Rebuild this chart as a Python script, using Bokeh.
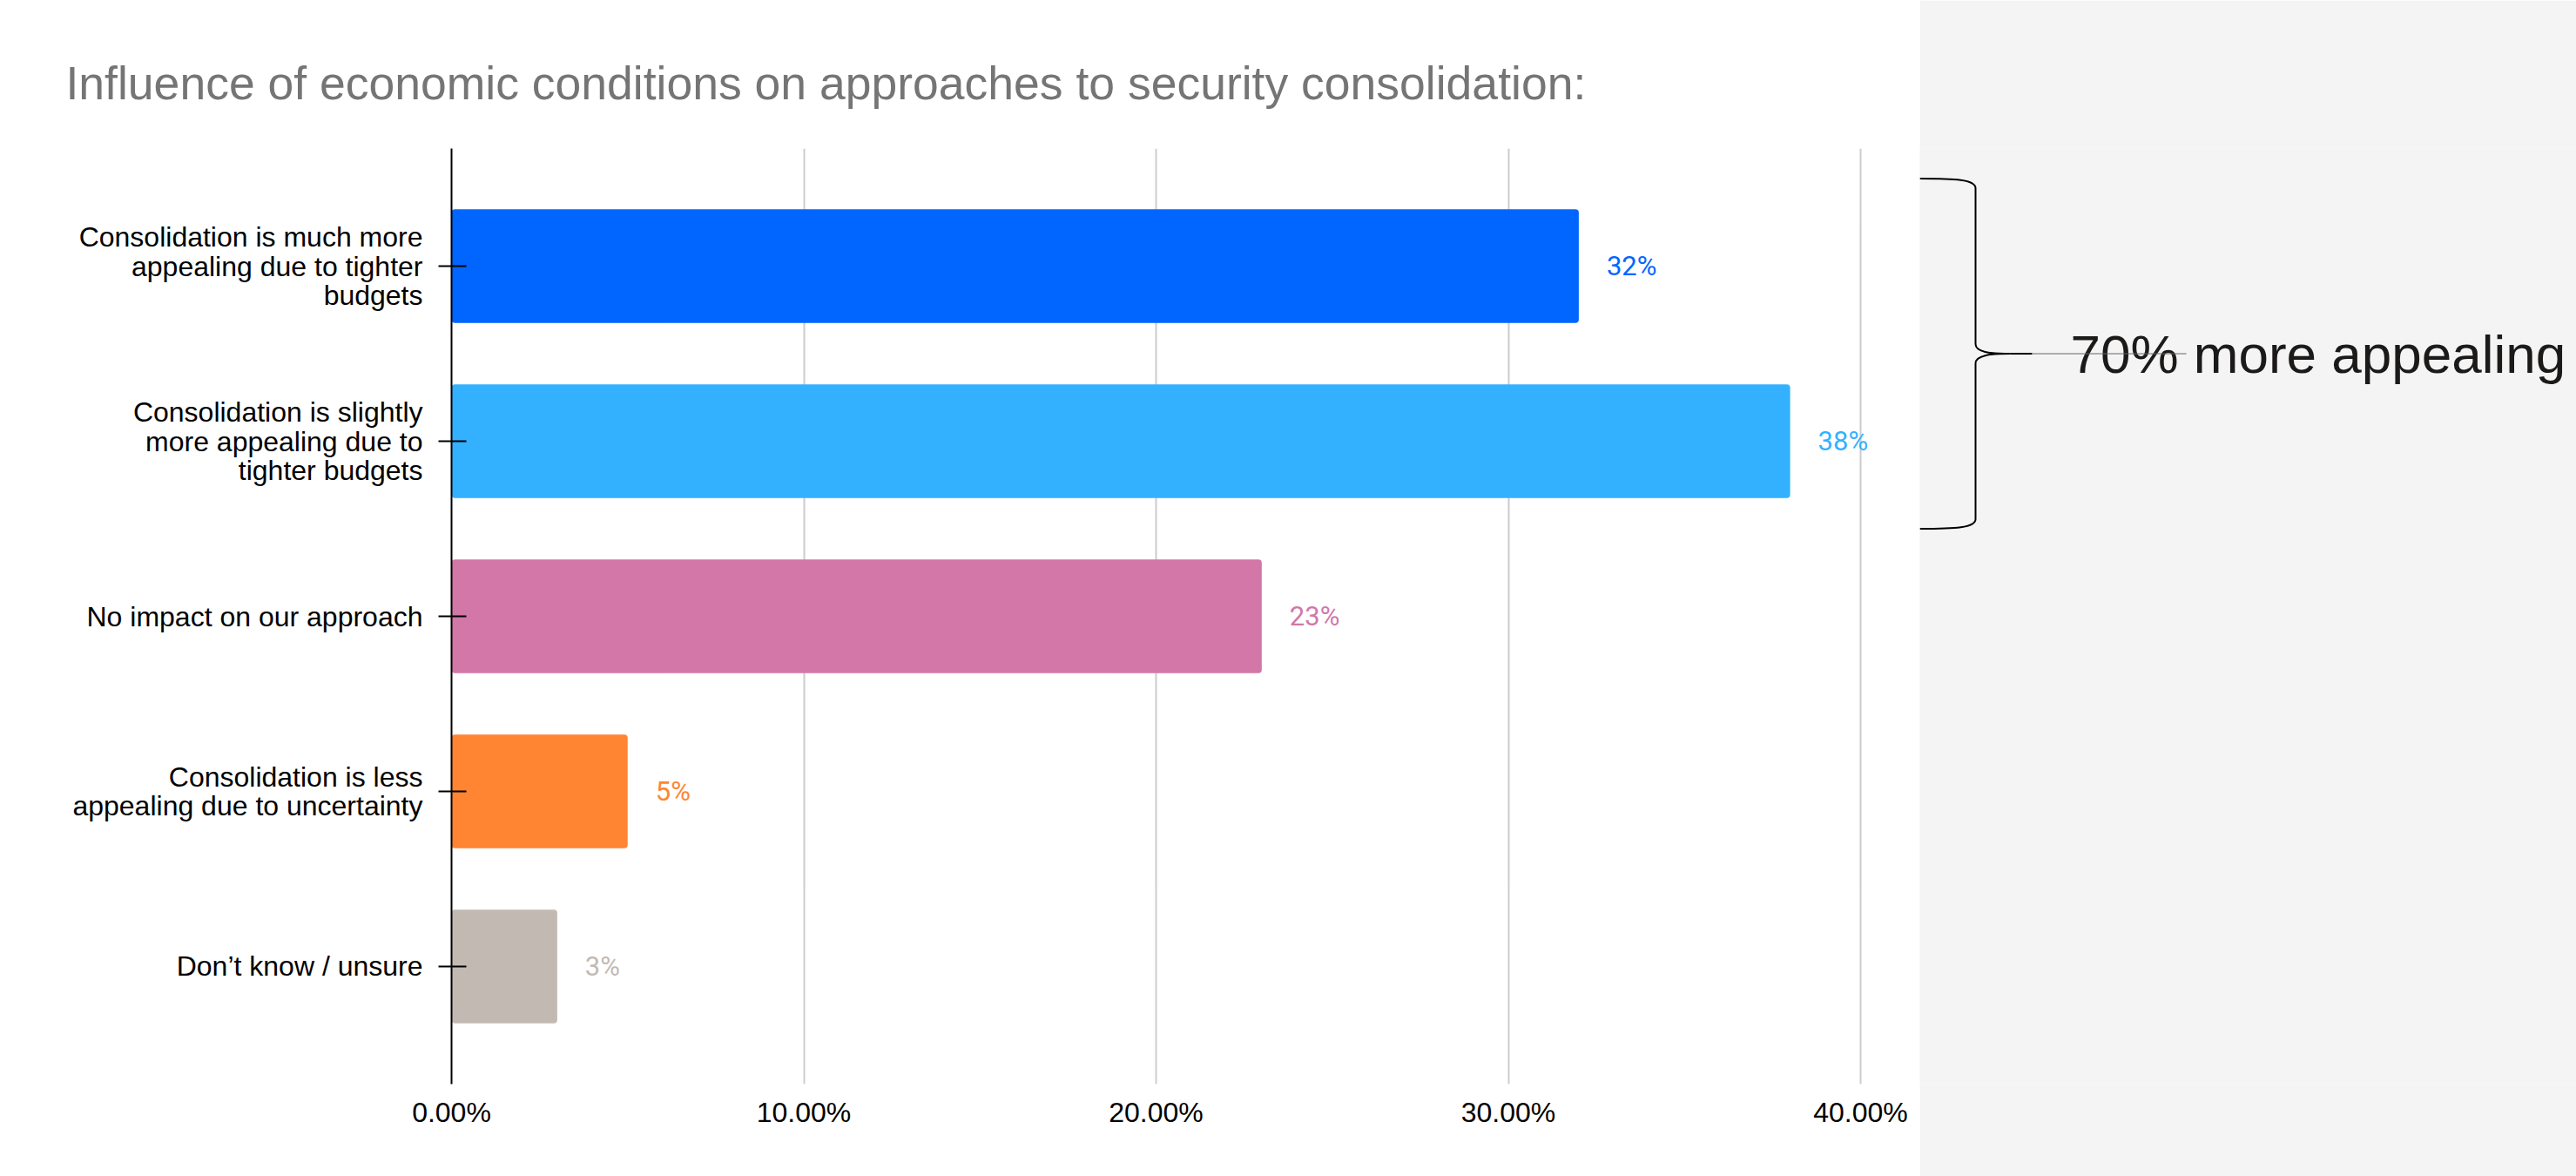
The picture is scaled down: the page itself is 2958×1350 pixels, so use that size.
from bokeh.plotting import figure
from bokeh.layouts import row
from bokeh.models import Range1d, FixedTicker, NumeralTickFormatter, ColumnDataSource
from bokeh.core.properties import value
from bokeh.embed import file_html
from bokeh.resources import INLINE

# ---------------- data ----------------
title_text = "Influence of economic conditions on approaches to security consolidation:"
categories = [
    "Consolidation is much more\nappealing due to tighter\nbudgets",
    "Consolidation is slightly\nmore appealing due to\ntighter budgets",
    "No impact on our approach",
    "Consolidation is less\nappealing due to uncertainty",
    "Don\u2019t know / unsure",
]
values = [0.32, 0.38, 0.23, 0.05, 0.03]
colors = ["#0066ff", "#33b1ff", "#d277a7", "#ff8533", "#c2b9b3"]
x_ticks = [0.0, 0.1, 0.2, 0.3, 0.4]
callout_text = "70% more appealing"
callout_members = [0, 1]

positions = list(range(1, len(categories) + 1))
labels = [f"{round(v * 100)}%" for v in values]

# ---------------- geometry ----------------
H = 1350
TOP = 170
BOTTOM = 106
FRAME_H = H - TOP - BOTTOM
PAD = 0.672
y_range = Range1d(start=len(categories) + PAD, end=1 - PAD)
PX = FRAME_H / (len(categories) - 1 + 2 * PAD)   # pixels per category unit

W1 = 2204
LEFT = 518
PX_PER_UNIT_X = 4045.0
x_range = Range1d(0, (W1 - LEFT) / PX_PER_UNIT_X)

src = ColumnDataSource(dict(y=positions, right=values, color=colors, label=labels))

p = figure(width=W1, height=H, x_range=x_range, y_range=y_range,
           output_backend="svg", toolbar_location=None,
           min_border_left=LEFT, min_border_right=0,
           min_border_top=TOP, min_border_bottom=BOTTOM,
           background_fill_color="white", border_fill_color="white",
           outline_line_color=None, title=title_text)

p.title.text_font = "Liberation Sans"
p.title.text_font_size = "53.5px"
p.title.text_font_style = "normal"
p.title.text_color = "#757575"
p.title.align = "left"
p.title.offset = -443
p.title.standoff = 92

p.hbar(y="y", left=0, right="right", height=0.65, fill_color="color",
       line_color=None, border_radius=4, source=src)
p.text(x="right", y="y", text="label", text_color="color", x_offset=32,
       text_baseline="middle", text_align="left", text_font=value("Roboto"),
       text_font_size="31px", source=src)

p.yaxis.ticker = FixedTicker(ticks=positions)
p.yaxis.major_label_overrides = {pos: cat for pos, cat in zip(positions, categories)}
p.yaxis.major_label_text_font = "Liberation Sans"
p.yaxis.major_label_text_font_size = "32px"
p.yaxis.major_label_text_color = "black"
p.yaxis.major_label_text_line_height = 0.94
p.yaxis.axis_line_color = "black"
p.yaxis.axis_line_width = 2
p.yaxis.major_tick_line_color = "black"
p.yaxis.major_tick_line_width = 2
p.yaxis.major_tick_out = 15
p.yaxis.major_tick_in = 17
p.yaxis.minor_tick_line_color = None
p.yaxis.major_label_standoff = 18

p.xaxis.ticker = FixedTicker(ticks=x_ticks)
p.xaxis.formatter = NumeralTickFormatter(format="0.00%")
p.xaxis.axis_line_color = None
p.xaxis.major_tick_line_color = None
p.xaxis.minor_tick_line_color = None
p.xaxis.major_tick_out = 0
p.xaxis.major_tick_in = 0
p.xaxis.major_label_text_font = "Liberation Sans"
p.xaxis.major_label_text_font_size = "32px"
p.xaxis.major_label_text_color = "black"
p.xaxis.major_label_standoff = 14

p.xgrid.grid_line_color = "#cccccc"
p.xgrid.grid_line_width = 2
p.ygrid.grid_line_color = None

# ---------------- right callout panel ----------------
W2 = 2958 - W1
q = figure(width=W2, height=H, x_range=Range1d(0, W2), y_range=y_range,
           output_backend="svg", toolbar_location=None,
           min_border_left=0, min_border_right=0,
           min_border_top=TOP, min_border_bottom=BOTTOM,
           background_fill_color="#f4f4f4", border_fill_color="#f4f4f4",
           outline_line_color=None, x_axis_location=None, y_axis_location=None)
q.grid.visible = False

y0 = positions[callout_members[0]] - 0.5
y1 = positions[callout_members[-1]] + 0.5
ym = (y0 + y1) / 2
d = 1.0 / PX
xs, xt = 64, 104

q.bezier(x0=[0, xs, xt, xs], y0=[y0, ym - 11 * d, ym, y1 - 11 * d],
         x1=[xs, xt, xs, 0], y1=[y0 + 11 * d, ym, ym + 11 * d, y1],
         cx0=[40, xs, 80, xs], cy0=[y0, ym - 2 * d, ym, y1 - 1 * d],
         cx1=[xs, 80, xs, 40], cy1=[y0 + 1 * d, ym, ym + 2 * d, y1],
         line_color="black", line_width=2)
q.segment(x0=[xs, xs], y0=[y0 + 11 * d, ym + 11 * d], x1=[xs, xs], y1=[ym - 11 * d, y1 - 11 * d],
          line_color="black", line_width=2)
q.text(x=[173], y=[ym], text=[callout_text], text_font=value("Liberation Sans"),
       text_font_size="62px", text_color="#1c1a19", text_baseline="middle", text_align="left")
q.segment(x0=[xt], y0=[ym], x1=[129], y1=[ym], line_color="black", line_width=2)
q.segment(x0=[129], y0=[ym], x1=[306], y1=[ym], line_color="#666666", line_width=1)

layout = row(p, q)
open("out.html", "w").write(file_html(layout, INLINE))
